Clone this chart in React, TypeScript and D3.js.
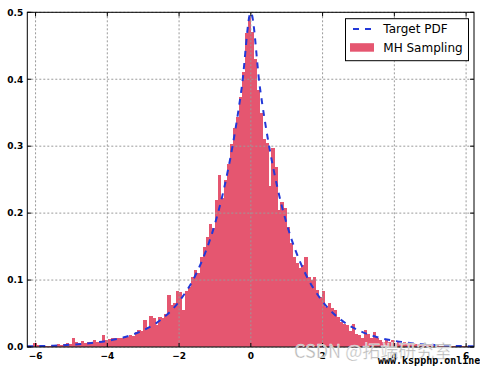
import { useEffect, useRef } from 'react';
import * as d3 from 'd3';

// histogram of MH samples: density per bin, bins spread evenly over the x range
const binRange = [-6.23, 6.22];
const densities = [
  0.002, 0.001, 0.006, 0.003, 0.002, 0.003, 0.001, 0.002, 0.003, 0.002,
  0.004, 0.003, 0.005, 0.006, 0.005, 0.013, 0.007, 0.006, 0.009, 0.006,
  0.007, 0.008, 0.010, 0.007, 0.009, 0.018, 0.010, 0.012, 0.013, 0.014,
  0.013, 0.013, 0.015, 0.015, 0.018, 0.017, 0.022, 0.025, 0.024, 0.040,
  0.030, 0.047, 0.043, 0.033, 0.045, 0.044, 0.050, 0.077, 0.063, 0.065,
  0.083, 0.082, 0.055, 0.083, 0.090, 0.105, 0.115, 0.110, 0.135, 0.150,
  0.165, 0.183, 0.178, 0.220, 0.257, 0.222, 0.249, 0.274, 0.304, 0.327,
  0.344, 0.374, 0.411, 0.469, 0.493, 0.470, 0.430, 0.384, 0.350, 0.310,
  0.305, 0.240, 0.297, 0.269, 0.204, 0.216, 0.207, 0.180, 0.155, 0.135,
  0.125, 0.118, 0.122, 0.135, 0.104, 0.100, 0.105, 0.085, 0.075, 0.083,
  0.060, 0.065, 0.058, 0.055, 0.045, 0.038, 0.035, 0.033, 0.024, 0.035,
  0.020, 0.018, 0.013, 0.025, 0.020, 0.014, 0.022, 0.013, 0.010, 0.008,
  0.010, 0.008, 0.011, 0.006, 0.008, 0.005, 0.007, 0.006, 0.004, 0.005,
  0.004, 0.003, 0.005, 0.002, 0.003, 0.004, 0.002, 0.003, 0.002, 0.001,
  0.002, 0.001, 0.002, 0.001, 0.002, 0.001, 0.001, 0.002, 0.000, 0.001,
];

// target pdf
const pdfX = [-6.23, -5.5, -5, -4.5, -4, -3.5, -3, -2.5, -2, -1.5, -1, -0.75, -0.5, -0.25, 0,
  0.25, 0.5, 0.75, 1, 1.5, 2, 2.5, 3, 3.5, 4, 4.5, 5, 5.5, 6.22];
const pdfY = [0.001, 0.002, 0.0034, 0.0056, 0.0092, 0.015, 0.025, 0.041, 0.068, 0.112, 0.184, 0.236, 0.303, 0.389, 0.5,
  0.389, 0.303, 0.236, 0.184, 0.112, 0.068, 0.041, 0.025, 0.015, 0.0092, 0.0056, 0.0034, 0.002, 0.001];

const xTicks = [-6, -4, -2, 0, 2, 4, 6];
const yTicks = [0, 0.1, 0.2, 0.3, 0.4, 0.5];
const legendLabels = ['Target PDF', 'MH Sampling'];

const histColor = '#e55670';
const lineColor = '#2238d8';

const App = () => {
  const svgRef = useRef<SVGSVGElement>(null);

  useEffect(() => {
    const svg = d3.select(svgRef.current);
    svg.selectAll('*').remove();

    const width = 480;
    const height = 368;
    const margin = { top: 12.3, right: 6, bottom: 21, left: 27.3 };
    const innerWidth = width - margin.left - margin.right;
    const innerHeight = height - margin.top - margin.bottom;

    const x = d3.scaleLinear().domain(binRange).range([0, innerWidth]);
    const y = d3.scaleLinear().domain([0, 0.5]).range([innerHeight, 0]);

    svg.append('rect').attr('width', width).attr('height', height).attr('fill', '#fff');

    const g = svg.append('g').attr('transform', `translate(${margin.left},${margin.top})`);

    // bars
    const binW = (binRange[1] - binRange[0]) / densities.length;
    g.append('g')
      .selectAll('rect')
      .data(densities)
      .enter()
      .append('rect')
      .attr('x', (d, i) => x(binRange[0] + i * binW))
      .attr('width', x(binRange[0] + binW) - x(binRange[0]) + 0.3)
      .attr('y', d => y(d))
      .attr('height', d => innerHeight - y(d))
      .attr('fill', histColor)
      .attr('shape-rendering', 'crispEdges');

    // grid on top of bars
    const grid = g.append('g').attr('stroke', '#9a9a9a').attr('stroke-width', 1).attr('stroke-dasharray', '2,2');
    xTicks.forEach(t => {
      grid.append('line').attr('x1', x(t)).attr('x2', x(t)).attr('y1', 0).attr('y2', innerHeight);
    });
    yTicks.forEach(t => {
      grid.append('line').attr('x1', 0).attr('x2', innerWidth).attr('y1', y(t)).attr('y2', y(t));
    });

    // pdf curve
    const line = d3.line<number>()
      .x((d, i) => x(pdfX[i]))
      .y(d => y(d))
      .curve(d3.curveMonotoneX);
    g.append('path')
      .attr('d', line(pdfY))
      .attr('fill', 'none')
      .attr('stroke', lineColor)
      .attr('stroke-width', 2)
      .attr('stroke-dasharray', '6,6');

    // frame + inward ticks
    g.append('rect')
      .attr('width', innerWidth).attr('height', innerHeight)
      .attr('fill', 'none').attr('stroke', '#000').attr('stroke-width', 1);
    const ticks = g.append('g').attr('stroke', '#000').attr('stroke-width', 1);
    xTicks.forEach(t => {
      ticks.append('line').attr('x1', x(t)).attr('x2', x(t)).attr('y1', innerHeight).attr('y2', innerHeight - 4);
      ticks.append('line').attr('x1', x(t)).attr('x2', x(t)).attr('y1', 0).attr('y2', 4);
    });
    yTicks.forEach(t => {
      ticks.append('line').attr('x1', 0).attr('x2', 4).attr('y1', y(t)).attr('y2', y(t));
      ticks.append('line').attr('x1', innerWidth).attr('x2', innerWidth - 4).attr('y1', y(t)).attr('y2', y(t));
    });

    // tick labels
    const fmtX = (t: number) => (t < 0 ? '\u2212' + Math.abs(t) : String(t));
    g.append('g')
      .selectAll('text')
      .data(xTicks)
      .enter()
      .append('text')
      .attr('x', d => x(d))
      .attr('y', innerHeight + 12)
      .attr('text-anchor', 'middle')
      .attr('font-family', 'DejaVu Sans')
      .attr('font-weight', 'bold')
      .attr('font-size', 9)
      .text(fmtX);
    g.append('g')
      .selectAll('text')
      .data(yTicks)
      .enter()
      .append('text')
      .attr('x', -4)
      .attr('y', d => y(d) + 3.3)
      .attr('text-anchor', 'end')
      .attr('font-family', 'DejaVu Sans')
      .attr('font-weight', 'bold')
      .attr('font-size', 9)
      .text(d => d.toFixed(1));

    // legend
    const lg = svg.append('g').attr('transform', 'translate(345.5,18.7)');
    lg.append('rect').attr('width', 123).attr('height', 42).attr('fill', '#fff').attr('stroke', '#000').attr('stroke-width', 1);
    lg.append('line')
      .attr('x1', 7.5).attr('x2', 25.5).attr('y1', 10.3).attr('y2', 10.3)
      .attr('stroke', lineColor).attr('stroke-width', 2).attr('stroke-dasharray', '6,6');
    lg.append('rect').attr('x', 4.5).attr('y', 24.5).attr('width', 24).attr('height', 8.5).attr('fill', histColor);
    lg.selectAll('text.lab')
      .data(legendLabels)
      .enter()
      .append('text')
      .attr('x', 37.8)
      .attr('y', (d, i) => 14.3 + i * 19.4)
      .attr('font-family', 'DejaVu Sans')
      .attr('font-size', 12)
      .attr('fill', '#000')
      .text(d => d);

    // watermarks
    svg.append('text')
      .attr('x', 294).attr('y', 358)
      .attr('font-family', 'Noto Sans CJK SC')
      .attr('font-size', 18)
      .attr('fill', '#b4b4b4')
      .attr('stroke', '#fff').attr('stroke-width', 0.6).attr('stroke-opacity', 0.7)
      .text('CSDN @拓端研究室');
    svg.append('text')
      .attr('x', 378).attr('y', 364)
      .attr('font-family', 'DejaVu Sans Mono')
      .attr('font-size', 10)
      .attr('font-weight', 'bold')
      .attr('fill', '#000')
      .text('www.kspphp.online');
  }, []);

  return (
    <svg ref={svgRef} width={480} height={368} style={{ position: 'absolute', left: 0, top: 0 }}></svg>
  );
};

export default App;
